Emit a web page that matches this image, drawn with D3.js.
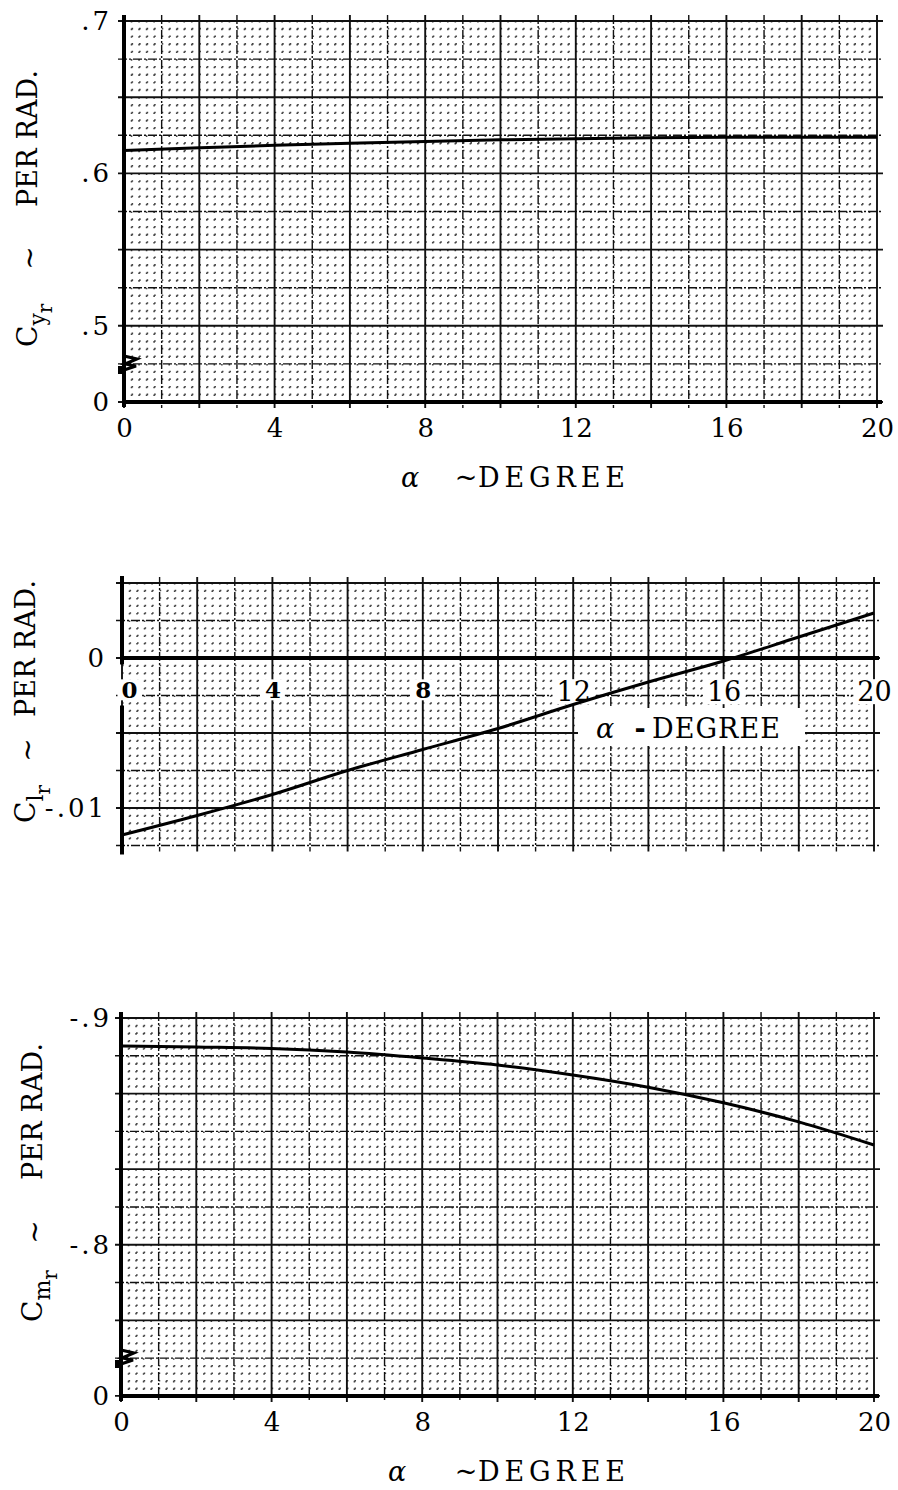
<!DOCTYPE html>
<html>
<head>
<meta charset="utf-8">
<script src="https://cdn.jsdelivr.net/npm/d3@7"></script>
<style>
body { margin: 0; background: #fff; }
svg { display: block; font-family: "DejaVu Serif", serif; }
</style>
</head>
<body>
<svg width="898" height="1490"></svg>
<script>
var alpha = [0, 2, 4, 6, 8, 10, 12, 14, 16, 18, 20];
var cyr = [0.6151, 0.6168, 0.6184, 0.6198, 0.6210, 0.6220, 0.6228, 0.6234, 0.6237, 0.6238, 0.6238];
var clr = [-0.0118, -0.0105, -0.0091, -0.0075, -0.0061, -0.0047, -0.0031, -0.0016, -0.0002, 0.0014, 0.0030];
var cmr = [-0.8877, -0.8872, -0.8866, -0.8850, -0.8824, -0.8793, -0.8749, -0.8695, -0.8626, -0.8542, -0.8440];

var alphaTicks = [0, 4, 8, 12, 16, 20];
var cyrBreak = 0.45;
var cyrTicks = [cyrBreak, 0.5, 0.6, 0.7];
var cyrTickLabels = ["0", ".5", ".6", ".7"];
var clrTicks = [0, -0.01];
var clrTickLabels = ["0", "-.01"];
var cmrBreak = -0.7333;
var cmrTicks = [cmrBreak, -0.8, -0.9];
var cmrTickLabels = ["0", "-.8", "-.9"];

var svg = d3.select("svg");

var panels = [
	{ name: "y", values: cyr, ticks: cyrTicks, labels: cyrTickLabels,
	  left: 124, right: 877, top: 21, bottom: 402,
	  yDomain: [cyrBreak, 0.7], yRef: 0.5, yMinor: 0.005, base: cyrBreak,
	  xPad: 17, yPad: 12, hasBreak: true,
	  title: { x: 37, c: 347, tilde: 258, per: 207 },
	  xTitle: { y: 487, alpha: 410, tilde: 466, word: 478, len: 147, sep: "~" } },
	{ name: "l", values: clr, ticks: clrTicks, labels: clrTickLabels,
	  left: 122, right: 874, top: 583, bottom: 845.5,
	  yDomain: [-0.0125, 0.005], yRef: 0, yMinor: 0.0005, base: 0,
	  xPad: 24, yPad: 15, hasBreak: false, axisGap: [-0.0003, -0.0033],
	  title: { x: 35, c: 823, tilde: 750, per: 717 },
	  xTitle: { y: 738, alpha: 605, tilde: 640, word: 652, len: 128, sep: "-", box: true } },
	{ name: "m", values: cmr, ticks: cmrTicks, labels: cmrTickLabels,
	  left: 121, right: 874, top: 1018, bottom: 1396,
	  yDomain: [cmrBreak, -0.9], yRef: -0.9, yMinor: 1 / 300, base: cmrBreak,
	  xPad: 17, yPad: 9, hasBreak: true,
	  title: { x: 42, c: 1322, tilde: 1232, per: 1180 },
	  xTitle: { y: 1481, alpha: 397, tilde: 466, word: 478, len: 147, sep: "~" } }
];

panels.forEach(drawPanel);

function kindOf(k) {
	var m = ((k % 10) + 10) % 10;
	if (m === 0) return "major";
	if (m === 5) return "mid";
	return "minor";
}

function drawPanel(cfg) {
	var g = svg.append("g");
	var x = d3.scaleLinear().domain([0, 20]).range([cfg.left, cfg.right]);
	var y = d3.scaleLinear().domain(cfg.yDomain).range([cfg.bottom, cfg.top]);

	var lo = d3.min(cfg.yDomain), hi = d3.max(cfg.yDomain);
	var pTop = Math.min(y(lo), y(hi)), pBot = Math.max(y(lo), y(hi));
	var xStep = x(0.2) - x(0);
	var yStep = Math.abs(y(cfg.yRef + cfg.yMinor) - y(cfg.yRef));

	var xLines = d3.range(0, 101).map(function(k) { return { v: k * 0.2, kind: kindOf(k) }; });
	var k0 = Math.ceil((lo - cfg.yRef) / cfg.yMinor - 1e-6);
	var k1 = Math.floor((hi - cfg.yRef) / cfg.yMinor + 1e-6);
	var yLines = d3.range(k0, k1 + 1).map(function(k) { return { v: cfg.yRef + k * cfg.yMinor, kind: kindOf(k) }; });

	var styles = {
		minor: { w: 1.6, c: "#444", ext: 0 },
		mid: { w: 1.4, c: "#111", ext: 6, dash: "9,2,2,2" },
		major: { w: 1.9, c: "#111", ext: 6 }
	};

	// graph paper: dots first, then dashed, then solid lines
	["minor", "mid", "major"].forEach(function(kind) {
		var s = styles[kind];
		g.selectAll(".v-" + kind)
			.data(xLines.filter(function(d) { return d.kind === kind; }))
			.enter().append("line")
			.attr("x1", function(d) { return x(d.v); })
			.attr("x2", function(d) { return x(d.v); })
			.attr("y1", pTop - s.ext)
			.attr("y2", pBot + s.ext)
			.attr("stroke", s.c)
			.attr("stroke-width", s.w)
			.attr("stroke-dasharray", kind === "minor" ? "1.6," + (yStep - 1.6) : (s.dash || null));

		g.selectAll(".h-" + kind)
			.data(yLines.filter(function(d) { return d.kind === kind; }))
			.enter().append("line")
			.attr("x1", cfg.left - s.ext)
			.attr("x2", cfg.right + s.ext)
			.attr("y1", function(d) { return y(d.v); })
			.attr("y2", function(d) { return y(d.v); })
			.attr("stroke", s.c)
			.attr("stroke-width", s.w)
			.attr("stroke-dasharray", kind === "minor" ? "1.6," + (xStep - 1.6) : (s.dash || null));
	});

	// tick labels
	var yAxis = g.append("g")
		.attr("transform", "translate(" + cfg.left + ",0)")
		.call(d3.axisLeft(y).tickValues(cfg.ticks).tickSize(0).tickPadding(cfg.yPad)
			.tickFormat(function(d, i) { return cfg.labels[i]; }));
	yAxis.select(".domain").remove();
	yAxis.selectAll("text")
		.attr("font-family", "DejaVu Serif")
		.attr("font-size", 26)
		.attr("letter-spacing", 3)
		.attr("fill", "#000");

	var xAxis = g.append("g")
		.attr("transform", "translate(0," + y(cfg.base) + ")")
		.call(d3.axisBottom(x).tickValues(alphaTicks).tickSize(0).tickPadding(cfg.xPad));
	xAxis.select(".domain").remove();
	xAxis.selectAll("text")
		.attr("font-family", "DejaVu Serif")
		.attr("font-size", 26)
		.attr("fill", "#000");

	if (cfg.name === "l") {
		xAxis.selectAll("text")
			.attr("font-weight", function(d) { return d < 12 ? "bold" : "normal"; })
			.attr("font-size", function(d) { return d < 12 ? 23 : 27; })
			.attr("dx", function(d) { return d === 0 ? 7 : 0; });
		xAxis.selectAll(".tick").each(function() {
			var b = this.querySelector("text").getBBox();
			d3.select(this).insert("rect", "text")
				.attr("x", b.x - 4).attr("y", b.y + 3)
				.attr("width", b.width + 8).attr("height", b.height - 6)
				.attr("fill", "#fff");
		});
	}

	// heavy axis lines
	var axes = g.append("g").attr("stroke", "#000").attr("stroke-width", 4).attr("stroke-linecap", "square");
	axes.append("line")
		.attr("x1", cfg.left).attr("x2", cfg.right + 3)
		.attr("y1", y(cfg.base)).attr("y2", y(cfg.base));
	if (cfg.axisGap) {
		axes.append("line")
			.attr("x1", cfg.left).attr("x2", cfg.left)
			.attr("y1", pTop - 5).attr("y2", y(cfg.axisGap[0]));
		axes.append("line")
			.attr("x1", cfg.left).attr("x2", cfg.left)
			.attr("y1", y(cfg.axisGap[1])).attr("y2", pBot + 7);
	} else {
		axes.append("line")
			.attr("x1", cfg.left).attr("x2", cfg.left)
			.attr("y1", pTop - 4).attr("y2", pBot + 3);
	}

	if (cfg.hasBreak) {
		var by = pBot - 36;
		var zig = [[0, -10], [13, -7], [1, -2], [12, 0], [0, 4]];
		g.append("path")
			.attr("d", d3.line()(zig.map(function(p) { return [cfg.left + p[0], by + p[1]]; })))
			.attr("fill", "none").attr("stroke", "#000").attr("stroke-width", 3);
		g.append("rect")
			.attr("x", cfg.left - 6).attr("y", by)
			.attr("width", 6).attr("height", 8)
			.attr("fill", "#000");
	}

	// the curve
	var line = d3.line()
		.x(function(d, i) { return x(alpha[i]); })
		.y(function(d) { return y(d); })
		.curve(d3.curveMonotoneX);
	g.append("path")
		.datum(cfg.values)
		.attr("d", line)
		.attr("fill", "none")
		.attr("stroke", "#000")
		.attr("stroke-width", 3);

	drawYTitle(g, cfg);
	drawXTitle(g, cfg);
}

function drawYTitle(g, cfg) {
	var t = cfg.title;
	var c = g.append("text")
		.attr("transform", "translate(" + t.x + "," + t.c + ") rotate(-90)")
		.attr("font-size", 28)
		.attr("fill", "#000");
	c.append("tspan").text("C");
	c.append("tspan").attr("font-size", 22).attr("dy", 8).text(cfg.name);
	c.append("tspan").attr("font-size", 20).attr("dy", 7).text("r");

	g.append("text")
		.attr("transform", "translate(" + (t.x + 2) + "," + t.tilde + ") rotate(-90)")
		.attr("text-anchor", "middle")
		.attr("font-size", 28)
		.attr("fill", "#000")
		.text("~");

	g.append("text")
		.attr("transform", "translate(" + t.x + "," + t.per + ") rotate(-90)")
		.attr("font-size", 27)
		.attr("textLength", 137)
		.attr("lengthAdjust", "spacing")
		.attr("fill", "#000")
		.text("PER RAD.");
}

function drawXTitle(g, cfg) {
	var t = cfg.xTitle;
	var grp = g.append("g").attr("font-size", 27).attr("fill", "#000");
	if (t.box) {
		grp.append("rect")
			.attr("x", t.alpha - 27).attr("y", t.y - 30)
			.attr("width", t.word + t.len - t.alpha + 52).attr("height", 38)
			.attr("fill", "#fff");
	}
	grp.append("text").attr("x", t.alpha).attr("y", t.y).attr("text-anchor", "middle")
		.attr("font-style", "italic").text("α");
	grp.append("text").attr("x", t.tilde).attr("y", t.y).attr("text-anchor", "middle")
		.attr("font-weight", t.sep === "-" ? "bold" : "normal").text(t.sep);
	grp.append("text").attr("x", t.word).attr("y", t.y)
		.attr("textLength", t.len).attr("lengthAdjust", "spacing")
		.text("DEGREE");
}
</script>
</body>
</html>
